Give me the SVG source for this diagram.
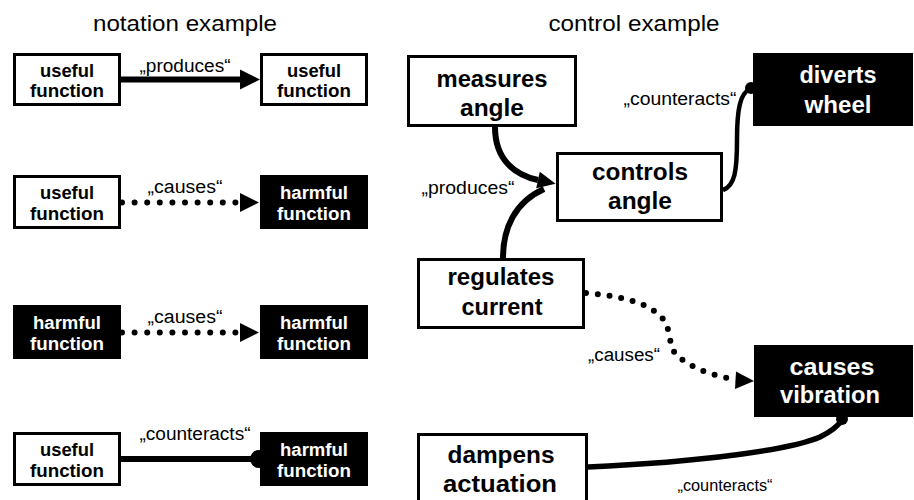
<svg xmlns="http://www.w3.org/2000/svg" width="914" height="500" viewBox="0 0 914 500">
  <style>
    text { font-family: "Liberation Sans", Arial, sans-serif; fill: #000; text-anchor: middle; }
    .title { font-size: 22px; }
    .small { font-size: 17.5px; font-weight: bold; }
    .big { font-size: 23.5px; font-weight: bold; }
    .inv { fill: #fff; }
    .lbl { font-size: 18px; }
    .useful { fill: #fff; stroke: #000; stroke-width: 3; }
    .harmful { fill: #000; stroke: #000; stroke-width: 1; }
    .solid { fill: none; stroke: #000; stroke-width: 6; }
    .thin { fill: none; stroke: #000; stroke-width: 4.5; }
    .dotted { fill: none; stroke: #000; stroke-width: 6; stroke-linecap: round; stroke-dasharray: 0 12.6; }
  </style>
  <defs>
    <marker id="arrow" markerUnits="userSpaceOnUse" markerWidth="20" markerHeight="20" refX="0" refY="10" orient="auto" overflow="visible">
      <path d="M0,0 L20,10 L0,20 Z" fill="#000"/>
    </marker>
    <marker id="arrowS" markerUnits="userSpaceOnUse" markerWidth="18" markerHeight="18" refX="0" refY="8.5" orient="auto" overflow="visible">
      <path d="M0,0 L18,8.5 L0,17 Z" fill="#000"/>
    </marker>
  </defs>

  <!-- headings -->
  <text class="title" x="185" y="31" textLength="184" lengthAdjust="spacingAndGlyphs">notation example</text>
  <text class="title" x="634" y="31" textLength="171" lengthAdjust="spacingAndGlyphs">control example</text>

  <!-- connectors -->
  <g id="connectors">
    <!-- notation: produces -->
    <path class="solid" d="M121,79.5 L240,79.5" marker-end="url(#arrow)"/>
    <!-- notation: causes -->
    <path class="dotted" d="M122,202.5 L236,202.5"/>
    <path d="M240,193 L259,202.5 L240,212 Z" fill="#000"/>
    <path class="dotted" d="M122,332.5 L236,332.5"/>
    <path d="M240,323 L259,332.5 L240,342 Z" fill="#000"/>
    <!-- notation: counteracts -->
    <path class="solid" d="M121,459 L258,459"/>
    <circle cx="259" cy="459" r="9" fill="#000"/>

    <!-- control: measures angle -> controls angle -->
    <path class="solid" d="M495,127 C495,160 515,175 538,180" marker-end="url(#arrowS)"/>
    <!-- control: regulates current -> controls angle -->
    <path class="solid" d="M503,258 C503,228 515,202 544,189"/>
    <!-- control: controls angle counteracts diverts wheel -->
    <path class="thin" d="M723,190 C735,186 737,170 737,140 C737,110 740,93 750,89"/>
    <circle cx="751" cy="88" r="6" fill="#000"/>
    <!-- control: regulates current causes vibration -->
    <path class="dotted" style="stroke-dasharray:0 11.8" d="M586,293 C625,296 655,305 665,322 C672,335 668,350 680,358 C695,370 718,377 734,379"/>
    <path d="M736,371.5 L754,381 L735,389 Z" fill="#000"/>
    <!-- control: dampens actuation counteracts causes vibration -->
    <path class="solid" style="stroke-width:5.5" d="M588,467 C700,462 790,450 820,437 C832,431 838,426 842,420"/>
    <circle cx="842" cy="419" r="6" fill="#000"/>
  </g>

  <!-- connector labels -->
  <g id="labels">
    <text class="lbl" x="185" y="72" textLength="91" lengthAdjust="spacingAndGlyphs">„produces“</text>
    <text class="lbl" x="185" y="193" textLength="75" lengthAdjust="spacingAndGlyphs">„causes“</text>
    <text class="lbl" x="185" y="323" textLength="75" lengthAdjust="spacingAndGlyphs">„causes“</text>
    <text class="lbl" x="195" y="440" textLength="111" lengthAdjust="spacingAndGlyphs">„counteracts“</text>
    <text class="lbl" x="468" y="194" textLength="93" lengthAdjust="spacingAndGlyphs">„produces“</text>
    <text class="lbl" x="680" y="105" textLength="113" lengthAdjust="spacingAndGlyphs">„counteracts“</text>
    <text class="lbl" x="624" y="361" textLength="72" lengthAdjust="spacingAndGlyphs">„causes“</text>
    <text class="lbl" style="font-size:16px" x="725" y="491" textLength="95" lengthAdjust="spacingAndGlyphs">„counteracts“</text>
  </g>

  <!-- notation example nodes -->
  <g id="n-useful-1">
    <rect class="useful" x="14.5" y="54.5" width="105" height="50"/>
    <text class="small" x="67" y="76.5" textLength="54" lengthAdjust="spacingAndGlyphs">useful</text>
    <text class="small" x="67" y="97" textLength="74" lengthAdjust="spacingAndGlyphs">function</text>
  </g>
  <g id="n-useful-2">
    <rect class="useful" x="261.5" y="54.5" width="105" height="50"/>
    <text class="small" x="314" y="76.5" textLength="54" lengthAdjust="spacingAndGlyphs">useful</text>
    <text class="small" x="314" y="97" textLength="74" lengthAdjust="spacingAndGlyphs">function</text>
  </g>
  <g id="n-useful-3">
    <rect class="useful" x="14.5" y="176.5" width="105" height="51"/>
    <text class="small" x="67" y="198.5" textLength="54" lengthAdjust="spacingAndGlyphs">useful</text>
    <text class="small" x="67" y="219.5" textLength="74" lengthAdjust="spacingAndGlyphs">function</text>
  </g>
  <g id="n-harmful-1">
    <rect class="harmful" x="260.5" y="175.5" width="107" height="53"/>
    <text class="small inv" x="314" y="198.5" textLength="68" lengthAdjust="spacingAndGlyphs">harmful</text>
    <text class="small inv" x="314" y="219.5" textLength="74" lengthAdjust="spacingAndGlyphs">function</text>
  </g>
  <g id="n-harmful-2">
    <rect class="harmful" x="13.5" y="305.5" width="107" height="53"/>
    <text class="small inv" x="67" y="328.5" textLength="68" lengthAdjust="spacingAndGlyphs">harmful</text>
    <text class="small inv" x="67" y="349.5" textLength="74" lengthAdjust="spacingAndGlyphs">function</text>
  </g>
  <g id="n-harmful-3">
    <rect class="harmful" x="260.5" y="305.5" width="107" height="53"/>
    <text class="small inv" x="314" y="328.5" textLength="68" lengthAdjust="spacingAndGlyphs">harmful</text>
    <text class="small inv" x="314" y="349.5" textLength="74" lengthAdjust="spacingAndGlyphs">function</text>
  </g>
  <g id="n-useful-4">
    <rect class="useful" x="14.5" y="433.5" width="105" height="51"/>
    <text class="small" x="67" y="455.5" textLength="54" lengthAdjust="spacingAndGlyphs">useful</text>
    <text class="small" x="67" y="476.5" textLength="74" lengthAdjust="spacingAndGlyphs">function</text>
  </g>
  <g id="n-harmful-4">
    <rect class="harmful" x="260.5" y="432.5" width="107" height="53"/>
    <text class="small inv" x="314" y="455.5" textLength="68" lengthAdjust="spacingAndGlyphs">harmful</text>
    <text class="small inv" x="314" y="476.5" textLength="74" lengthAdjust="spacingAndGlyphs">function</text>
  </g>

  <!-- control example nodes -->
  <g id="measures-angle">
    <rect class="useful" x="408.5" y="56.5" width="167" height="69"/>
    <text class="big" x="492" y="87" textLength="111" lengthAdjust="spacingAndGlyphs">measures</text>
    <text class="big" x="492" y="116" textLength="64" lengthAdjust="spacingAndGlyphs">angle</text>
  </g>
  <g id="controls-angle">
    <rect class="useful" x="557.5" y="153.5" width="164" height="67"/>
    <text class="big" x="640" y="180" textLength="96" lengthAdjust="spacingAndGlyphs">controls</text>
    <text class="big" x="640" y="209" textLength="64" lengthAdjust="spacingAndGlyphs">angle</text>
  </g>
  <g id="diverts-wheel">
    <rect class="harmful" x="753.5" y="53.5" width="159" height="72"/>
    <text class="big inv" x="838" y="83" textLength="77" lengthAdjust="spacingAndGlyphs">diverts</text>
    <text class="big inv" x="838" y="113" textLength="67" lengthAdjust="spacingAndGlyphs">wheel</text>
  </g>
  <g id="regulates-current">
    <rect class="useful" x="418.5" y="259.5" width="165" height="68"/>
    <text class="big" x="501" y="285" textLength="107" lengthAdjust="spacingAndGlyphs">regulates</text>
    <text class="big" x="502" y="315" textLength="81" lengthAdjust="spacingAndGlyphs">current</text>
  </g>
  <g id="causes-vibration">
    <rect class="harmful" x="754.5" y="345.5" width="158" height="71"/>
    <text class="big inv" x="832" y="375" textLength="85" lengthAdjust="spacingAndGlyphs">causes</text>
    <text class="big inv" x="830" y="403" textLength="100" lengthAdjust="spacingAndGlyphs">vibration</text>
  </g>
  <g id="dampens-actuation">
    <rect class="useful" x="418.5" y="434.5" width="168" height="70"/>
    <text class="big" x="501" y="463" textLength="107" lengthAdjust="spacingAndGlyphs">dampens</text>
    <text class="big" x="500" y="492" textLength="114" lengthAdjust="spacingAndGlyphs">actuation</text>
  </g>
</svg>
